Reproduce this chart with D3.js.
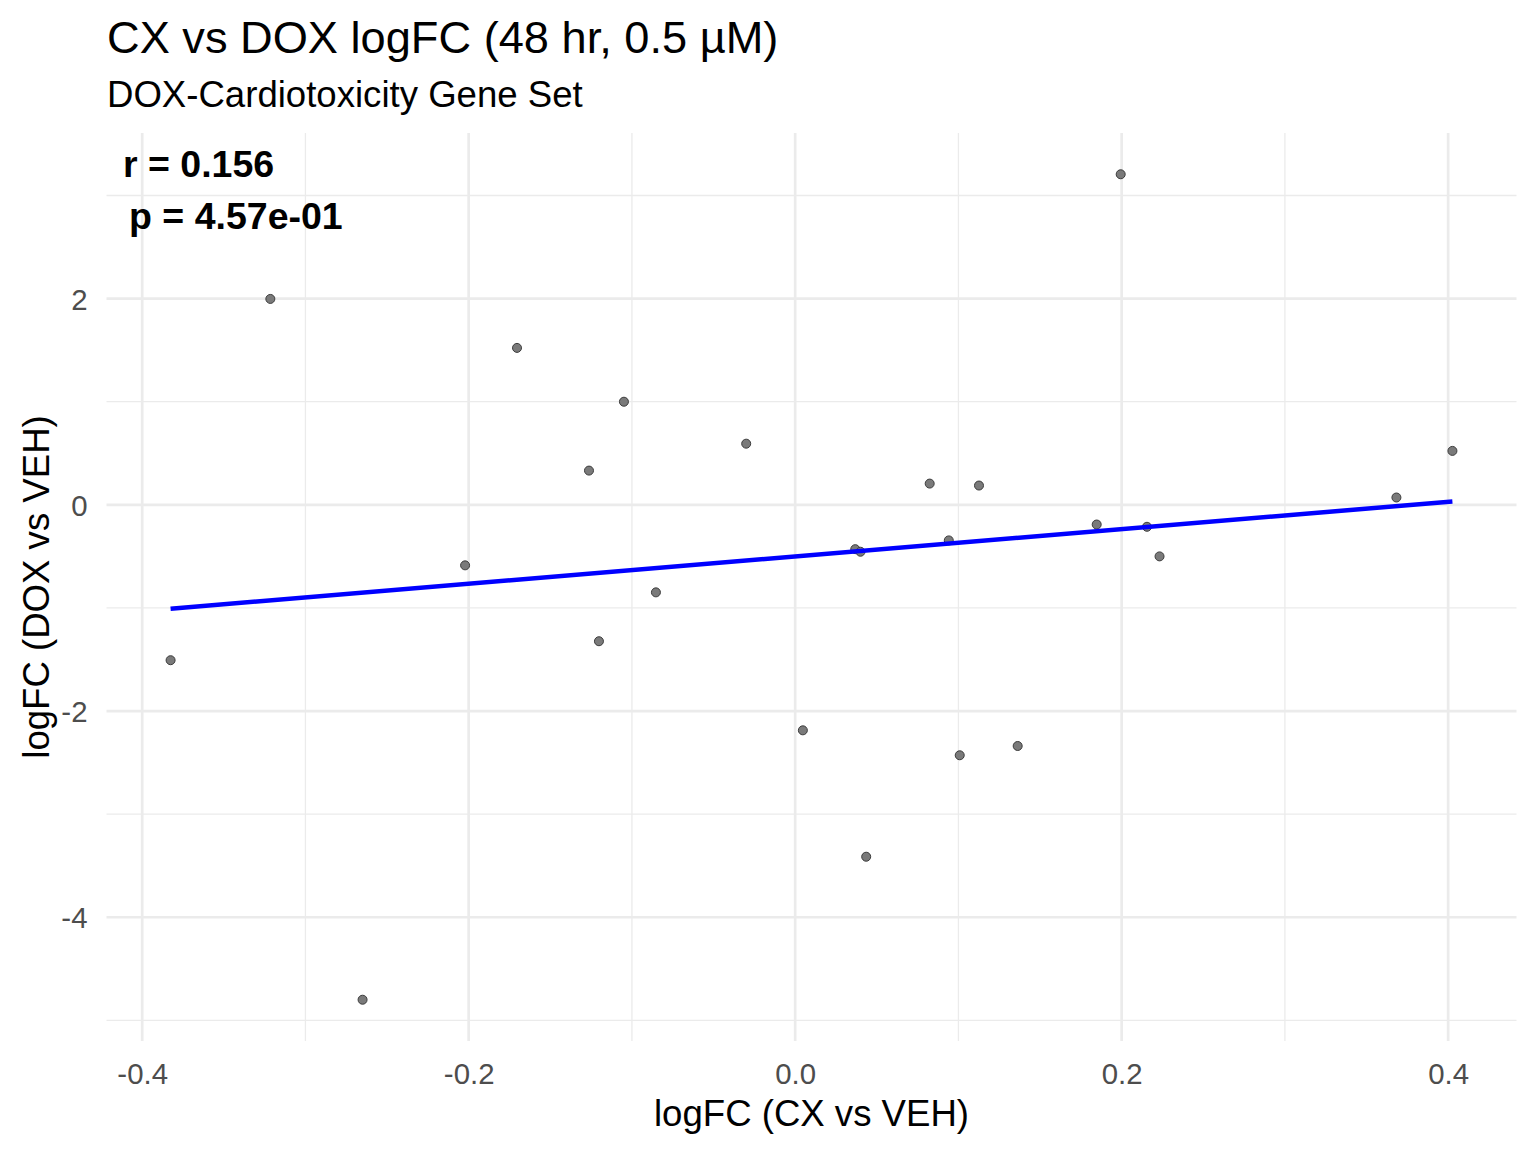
<!DOCTYPE html>
<html>
<head>
<meta charset="utf-8">
<script src="https://cdn.jsdelivr.net/npm/d3@7"></script>
<style>
  body { margin: 0; background: #fff; }
  svg { display: block; font-family: "Liberation Sans", Arial, sans-serif; }
</style>
</head>
<body>
<div id="chart"></div>
<script>
// logFC values
var cx_logfc = [-0.3826, -0.3215, -0.2650, -0.2022, -0.1704, -0.1263, -0.1202, -0.1049, -0.0853, -0.0300,
                0.0047, 0.0368, 0.0400, 0.0435, 0.0824, 0.0941, 0.1008, 0.1126, 0.1363, 0.1847,
                0.1994, 0.2155, 0.2232, 0.3683, 0.4026];
var dox_logfc = [-1.507, 1.997, -4.800, -0.587, 1.522, 0.332, -1.323, 1.000, -0.849, 0.593,
                 -2.187, -0.430, -0.455, -3.413, 0.206, -0.345, -2.429, 0.187, -2.339, -0.191,
                 3.206, -0.213, -0.500, 0.071, 0.523];
var x_major = [-0.4, -0.2, 0.0, 0.2, 0.4];
var x_minor = [-0.3, -0.1, 0.1, 0.3];
var y_major = [-4, -2, 0, 2];
var y_minor = [-5, -3, -1, 1, 3];
var stat_lines = ["r = 0.156", "p = 4.57e-01"];

var W = 1536, H = 1152;
var panel = {left: 106.5, right: 1516.5, top: 133, bottom: 1041};

var points = cx_logfc.map(function(x, i) { return {x: x, y: dox_logfc[i]}; });

// ggplot style 5% expansion
function expand(ext) {
  var d = (ext[1] - ext[0]) * 0.05;
  return [ext[0] - d, ext[1] + d];
}

// R prints a plain hyphen, not the unicode minus d3 uses
var loc = d3.formatLocale({decimal: ".", thousands: ",", grouping: [3], currency: ["", ""], minus: "-"});

var x = d3.scaleLinear().domain(expand(d3.extent(cx_logfc))).range([panel.left, panel.right]);
var y = d3.scaleLinear().domain(expand(d3.extent(dox_logfc))).range([panel.bottom, panel.top]);

var svg = d3.select("#chart").append("svg")
  .attr("width", W).attr("height", H);

var grid = svg.append("g");
// minor grid
grid.selectAll(".xmin").data(x_minor).enter().append("line")
  .attr("x1", function(d) { return x(d); }).attr("x2", function(d) { return x(d); })
  .attr("y1", panel.top).attr("y2", panel.bottom)
  .style("stroke", "#ebebeb").style("stroke-width", 1.3);
grid.selectAll(".ymin").data(y_minor).enter().append("line")
  .attr("y1", function(d) { return y(d); }).attr("y2", function(d) { return y(d); })
  .attr("x1", panel.left).attr("x2", panel.right)
  .style("stroke", "#ebebeb").style("stroke-width", 1.3);
// major grid
grid.selectAll(".xmaj").data(x_major).enter().append("line")
  .attr("x1", function(d) { return x(d); }).attr("x2", function(d) { return x(d); })
  .attr("y1", panel.top).attr("y2", panel.bottom)
  .style("stroke", "#ebebeb").style("stroke-width", 2.7);
grid.selectAll(".ymaj").data(y_major).enter().append("line")
  .attr("y1", function(d) { return y(d); }).attr("y2", function(d) { return y(d); })
  .attr("x1", panel.left).attr("x2", panel.right)
  .style("stroke", "#ebebeb").style("stroke-width", 2.7);

// axes, no lines or ticks, just labels
var xAxis = svg.append("g")
  .attr("transform", "translate(0," + panel.bottom + ")")
  .call(d3.axisBottom(x).tickValues(x_major).tickFormat(loc.format(".1f")).tickSize(0).tickPadding(43));
var yAxis = svg.append("g")
  .attr("transform", "translate(" + panel.left + ",0)")
  .call(d3.axisLeft(y).tickValues(y_major).tickFormat(loc.format("d")).tickSize(0).tickPadding(19));
[xAxis, yAxis].forEach(function(a) {
  a.select(".domain").remove();
  a.selectAll("text")
    .style("font-family", "Liberation Sans, Arial, sans-serif")
    .style("font-size", "29.4px")
    .style("fill", "#4d4d4d");
});
xAxis.selectAll("text").attr("dy", 0);
yAxis.selectAll("text").attr("dy", "0.36em");

// points
svg.append("g").selectAll("circle")
  .data(points).enter().append("circle")
  .attr("cx", function(d) { return x(d.x); })
  .attr("cy", function(d) { return y(d.y); })
  .attr("r", 4.5)
  .style("fill", "#7a7a7a")
  .style("stroke", "#3c3c3c")
  .style("stroke-width", 1);

// least squares fit line
var mx = d3.mean(cx_logfc), my = d3.mean(dox_logfc);
var sxy = d3.sum(points, function(d) { return (d.x - mx) * (d.y - my); });
var sxx = d3.sum(points, function(d) { return (d.x - mx) * (d.x - mx); });
var slope = sxy / sxx, icpt = my - slope * mx;
var xr = d3.extent(cx_logfc);
var fit = xr.map(function(v) { return {x: v, y: icpt + slope * v}; });

svg.append("path")
  .attr("d", d3.line().x(function(d) { return x(d.x); }).y(function(d) { return y(d.y); })(fit))
  .style("stroke", "#0000ff")
  .style("stroke-width", 4.5)
  .style("fill", "none");

// stats annotation
svg.append("text").attr("x", 123).attr("y", 177)
  .style("font-size", "37.5px").style("font-weight", "bold").text(stat_lines[0]);
svg.append("text").attr("x", 129).attr("y", 229)
  .style("font-size", "37.5px").style("font-weight", "bold").text(stat_lines[1]);

// titles
svg.append("text").attr("x", 107).attr("y", 53)
  .style("font-size", "45.2px").text("CX vs DOX logFC (48 hr, 0.5 \u00b5M)");
svg.append("text").attr("x", 107).attr("y", 107)
  .style("font-size", "36.6px").text("DOX-Cardiotoxicity Gene Set");
svg.append("text")
  .attr("x", (panel.left + panel.right) / 2).attr("y", 1126)
  .attr("text-anchor", "middle")
  .style("font-size", "36.6px").text("logFC (CX vs VEH)");
svg.append("text")
  .attr("transform", "translate(49," + ((panel.top + panel.bottom) / 2) + ") rotate(-90)")
  .attr("text-anchor", "middle")
  .style("font-size", "36.6px").text("logFC (DOX vs VEH)");
</script>
</body>
</html>
